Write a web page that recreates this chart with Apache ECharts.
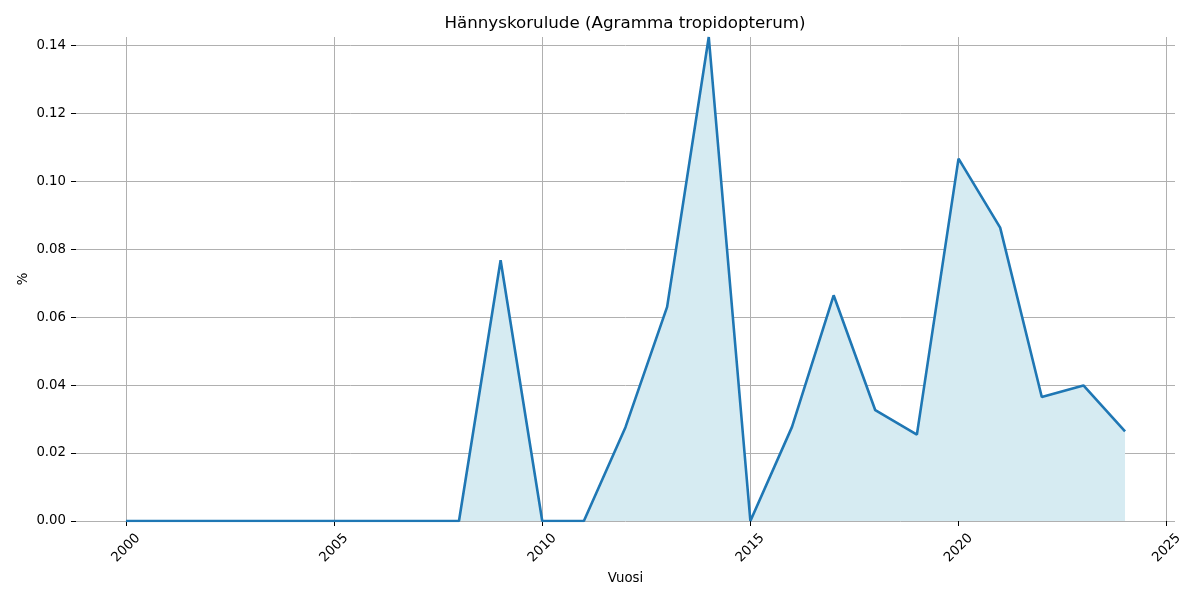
<!DOCTYPE html>
<html>
<head>
<meta charset="utf-8">
<script src="https://cdn.jsdelivr.net/npm/echarts@6/dist/echarts.min.js"></script>
<style>
  html, body { margin: 0; padding: 0; background: #fff; }
  #chart { width: 1200px; height: 600px; }
</style>
</head>
<body>
<div id="chart"></div>
<script>
// vuodet ja osuudet (%)
const years = [2000, 2001, 2002, 2003, 2004, 2005, 2006, 2007, 2008, 2009, 2010, 2011, 2012,
  2013, 2014, 2015, 2016, 2017, 2018, 2019, 2020, 2021, 2022, 2023, 2024];
const percents = [0, 0, 0, 0, 0, 0, 0, 0, 0, 0.0767, 0, 0, 0.0276,
  0.0630, 0.1424, 0, 0.0277, 0.0664, 0.0326, 0.0254, 0.1066, 0.0863, 0.0365, 0.0399, 0.0264];
const xTicks = [2000, 2005, 2010, 2015, 2020, 2025];
const yTicks = [0, 0.02, 0.04, 0.06, 0.08, 0.10, 0.12, 0.14];

const font = "DejaVu Sans";
let myChart = echarts.init(document.getElementById("chart"));

myChart.setOption({
  animation: false,
  title: {
    text: "Hännyskorulude (Agramma tropidopterum)",
    left: 625,
    textAlign: "center",
    top: 15,
    padding: 0,
    textStyle: { fontFamily: font, fontSize: 16.7, fontWeight: "normal", color: "#000" },
  },
  grid: { left: 76, right: 25, top: 37, bottom: 79 },
  xAxis: {
    type: "value",
    min: 1998.8,
    max: 2025.2,
    name: "Vuosi",
    nameLocation: "middle",
    nameGap: 51,
    nameMoveOverlap: false,
    nameTextStyle: { fontFamily: font, fontSize: 13.3, color: "#000" },
    axisLine: { show: false },
    axisTick: { show: true, customValues: xTicks, length: 5, lineStyle: { color: "#000", width: 1 } },
    axisLabel: {
      customValues: xTicks,
      rotate: 45,
      align: "center",
      verticalAlign: "middle",
      margin: 27,
      fontFamily: font,
      fontSize: 13.3,
      color: "#000",
      formatter: (v) => String(v),
    },
    splitLine: { show: true, lineStyle: { color: "#b0b0b0", width: 1 } },
  },
  yAxis: {
    type: "value",
    min: 0,
    max: 0.1424,
    name: "%",
    nameLocation: "middle",
    nameGap: 46,
    nameMoveOverlap: false,
    nameTextStyle: { fontFamily: font, fontSize: 13.3, color: "#000" },
    axisLine: { show: false },
    axisTick: { show: true, customValues: yTicks, length: 5, lineStyle: { color: "#000", width: 1 } },
    axisLabel: {
      customValues: yTicks,
      margin: 10,
      fontFamily: font,
      fontSize: 13.3,
      color: "#000",
      formatter: (v) => v.toFixed(2),
    },
    splitLine: { show: true, lineStyle: { color: "#b0b0b0", width: 1 } },
  },
  series: [
    {
      type: "line",
      data: years.map((y, i) => [y, percents[i]]),
      symbol: "none",
      lineStyle: { color: "#1f77b4", width: 2.6 },
      itemStyle: { color: "#1f77b4" },
      areaStyle: { color: "#d6ebf2", opacity: 1 },
    },
  ],
});
</script>
</body>
</html>
